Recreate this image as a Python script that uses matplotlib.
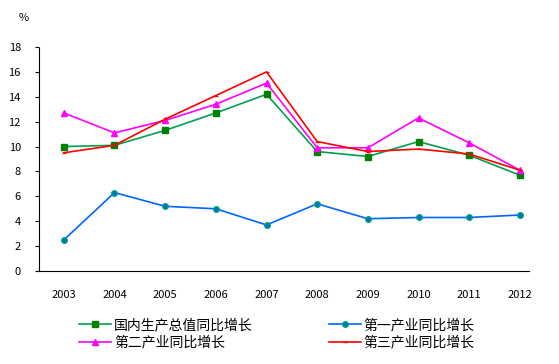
import matplotlib.pyplot as plt

plt.rcParams['font.family'] = ['Noto Sans CJK SC', 'DejaVu Sans']

years = ['2003', '2004', '2005', '2006', '2007', '2008', '2009', '2010', '2011', '2012']
gdp = [10.0, 10.1, 11.3, 12.7, 14.2, 9.6, 9.2, 10.4, 9.3, 7.7]
primary = [2.5, 6.3, 5.2, 5.0, 3.7, 5.4, 4.2, 4.3, 4.3, 4.5]
secondary = [12.7, 11.1, 12.1, 13.4, 15.1, 9.9, 9.9, 12.3, 10.3, 8.1]
tertiary = [9.5, 10.1, 12.2, 14.1, 16.0, 10.4, 9.6, 9.8, 9.4, 8.1]
labels = ['国内生产总值同比增长', '第一产业同比增长', '第二产业同比增长', '第三产业同比增长']

fig = plt.figure(figsize=(5.59, 3.64), dpi=100)
ax = fig.add_axes([39/559, 1 - 271/364, (530-39)/559, (271-47)/364])

x = range(len(years))
l1, = ax.plot(x, gdp, color='#00a050', lw=1.2, marker='s', ms=4,
              mfc='#008000', mec='#008000')
l2, = ax.plot(x, primary, color='#0066ff', lw=1.2, marker='o', ms=4,
              mfc='#0070c0', mec='#00a080')
l3, = ax.plot(x, secondary, color='#ff00ff', lw=1.2, marker='^', ms=5,
              mfc='#ff00ff', mec='#ff00ff')
l4, = ax.plot(x, tertiary, color='#ff0000', lw=1.2, marker='_', ms=3,
              mec='#ff0000')

ax.set_xlim(-0.49, 9.2)
ax.set_ylim(0, 18)
ax.set_yticks(range(0, 19, 2))
ax.set_xticks(list(x))
ax.set_xticklabels(years)
ax.tick_params(axis='x', length=0, pad=14, labelsize=8)
ax.tick_params(axis='y', length=3, direction='out', pad=10, labelsize=8)
for s in ['top', 'right']:
    ax.spines[s].set_visible(False)
for s in ['left', 'bottom']:
    ax.spines[s].set_linestyle((0, (1, 1)))
    ax.spines[s].set_linewidth(0.8)

fig.text(24/559, 1 - 18/364, '%', ha='center', va='center', fontsize=8)

# legend fills column-wise: put GDP/secondary in col 1, primary/tertiary in col 2
fig.legend([l1, l3, l2, l4], [labels[0], labels[2], labels[1], labels[3]],
           loc='center', ncol=2, frameon=False,
           bbox_to_anchor=(277/559, 1 - 334/364), fontsize=10,
           handlelength=2.3, columnspacing=5.5, labelspacing=0.25,
           handletextpad=0.2)

fig.savefig('out.png', dpi=100)
